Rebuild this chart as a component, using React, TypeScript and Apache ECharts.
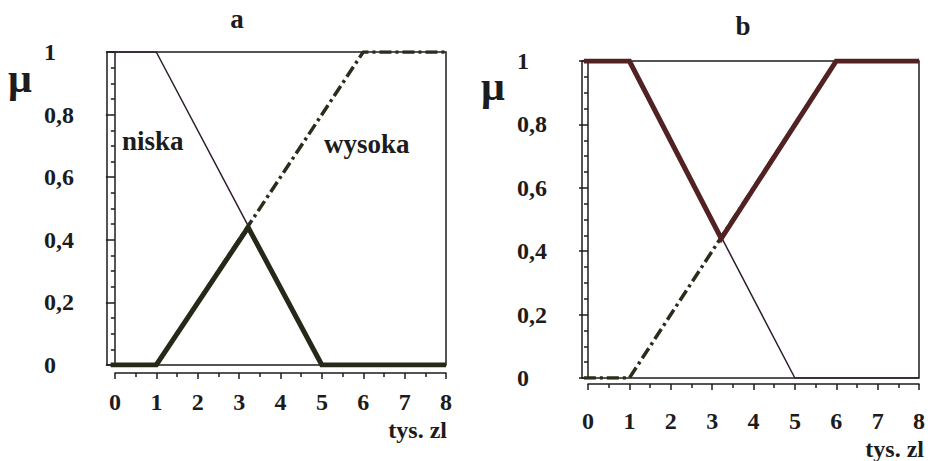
import React, { useEffect, useRef } from "react";
import * as echarts from "echarts";

// membership functions (x in tys. zł, μ)
const niskaX = [-0.1, 1, 5, 8];
const niskaY = [1, 1, 0, 0];
const wysokaX = [-0.1, 1, 6, 8];
const wysokaY = [0, 0, 1, 1];
// a: minimum (AND)
const minX = [-0.1, 1, 3.22, 5, 8];
const minY = [0, 0, 0.44, 0, 0];
// b: maximum (OR)
const maxX = [-0.1, 1, 3.22, 6, 8];
const maxY = [1, 1, 0.44, 1, 1];

const xTickLabels = ["0", "1", "2", "3", "4", "5", "6", "7", "8"];
const yTickLabels = ["0", "0,2", "0,4", "0,6", "0,8", "1"];

const FONT = "'Liberation Serif', 'DejaVu Serif', serif";
const INK = "#1c1c1c";
const THIN = "#2e1c30";
const DASH = "#2a2d1c";
const THICK_A = "#262818";
const THICK_B = "#522222";

const zip = (xs: number[], ys: number[]) => xs.map((x, i) => [x, ys[i]]);

function yAxisVisible(grid: number, margin: number) {
  return {
    gridIndex: grid,
    type: "value",
    min: 0,
    max: 1,
    interval: 0.2,
    offset: 5,
    axisLine: { show: true, lineStyle: { color: INK, width: 1.5 } },
    axisTick: { show: true, length: 9, lineStyle: { color: INK, width: 1.5 } },
    minorTick: { show: true, splitNumber: 4, length: 4, lineStyle: { color: INK, width: 1.5 } },
    splitLine: { show: false },
    minorSplitLine: { show: false },
    axisLabel: {
      align: "left",
      margin,
      fontFamily: FONT,
      fontWeight: "bold",
      fontSize: 24,
      color: INK,
      formatter: (_v: number, i: number) => yTickLabels[i],
    },
  };
}

function xAxisVisible(grid: number, margin: number) {
  return {
    gridIndex: grid,
    type: "value",
    min: 0,
    max: 8,
    interval: 1,
    position: "bottom",
    axisLine: { show: true, onZero: false, lineStyle: { color: INK, width: 1.5 } },
    axisTick: { show: true, length: 6, lineStyle: { color: INK, width: 1.5 } },
    minorTick: { show: true, splitNumber: 2, length: 4, lineStyle: { color: INK, width: 1.5 } },
    splitLine: { show: false },
    minorSplitLine: { show: false },
    axisLabel: {
      margin,
      fontFamily: FONT,
      fontWeight: "bold",
      fontSize: 24,
      lineHeight: 22,
      color: INK,
      formatter: (_v: number, i: number) => xTickLabels[i],
    },
  };
}

function txt(text: string, x: number, y: number, size: number, align = "left") {
  return {
    type: "text",
    x,
    y,
    z: 100,
    style: {
      text,
      fill: INK,
      fontFamily: FONT,
      fontWeight: "bold",
      fontSize: size,
      align,
      verticalAlign: "middle",
    },
  };
}

export default function App() {
  const ref = useRef<HTMLDivElement>(null);
  useEffect(() => {
    if (!ref.current) return;
    const chart = echarts.init(ref.current, undefined, { renderer: "svg" });
    const boxStyle = { show: true, borderColor: INK, borderWidth: 1.5, backgroundColor: "transparent" };
    const option: any = {
      animation: false,
      backgroundColor: "#ffffff",
      grid: [
        { left: 107, top: 52, width: 339, height: 313, ...boxStyle },
        { left: 115, top: 200, width: 331, height: 173 },
        { left: 582, top: 61, width: 337, height: 317, ...boxStyle },
        { left: 588, top: 200, width: 331, height: 184 },
      ],
      xAxis: [
        { gridIndex: 0, type: "value", min: -0.19, max: 8, show: false },
        xAxisVisible(1, 18),
        { gridIndex: 2, type: "value", min: -0.145, max: 8, show: false },
        xAxisVisible(3, 26),
      ],
      yAxis: [
        yAxisVisible(0, 58),
        { gridIndex: 1, type: "value", show: false },
        yAxisVisible(2, 60),
        { gridIndex: 3, type: "value", show: false },
      ],
      series: [
        // chart a
        {
          name: "niska", type: "line", xAxisIndex: 0, yAxisIndex: 0, symbol: "none", z: 2,
          data: zip(niskaX, niskaY), lineStyle: { color: THIN, width: 1.5 },
        },
        {
          name: "wysoka", type: "line", xAxisIndex: 0, yAxisIndex: 0, symbol: "none", z: 3,
          data: zip(wysokaX, wysokaY), lineStyle: { color: DASH, width: 3.5, type: [12, 4, 3, 4] },
        },
        {
          name: "min", type: "line", xAxisIndex: 0, yAxisIndex: 0, symbol: "none", z: 4,
          data: zip(minX, minY), lineStyle: { color: THICK_A, width: 5, join: "miter" },
        },
        // chart b
        {
          name: "niska b", type: "line", xAxisIndex: 2, yAxisIndex: 2, symbol: "none", z: 2,
          data: zip(niskaX, niskaY), lineStyle: { color: THIN, width: 1.5 },
        },
        {
          name: "wysoka b", type: "line", xAxisIndex: 2, yAxisIndex: 2, symbol: "none", z: 3,
          data: zip(wysokaX, wysokaY), lineStyle: { color: DASH, width: 3.5, type: [12, 4, 3, 4] },
        },
        {
          name: "max", type: "line", xAxisIndex: 2, yAxisIndex: 2, symbol: "none", z: 4,
          data: zip(maxX, maxY), lineStyle: { color: THICK_B, width: 5, join: "miter" },
        },
      ],
      graphic: [
        txt("a", 237, 19, 27, "center"),
        txt("b", 743, 26, 27, "center"),
        txt("μ", 20, 78, 42, "center"),
        txt("μ", 493, 86, 42, "center"),
        txt("niska", 122, 141, 27),
        txt("wysoka", 324, 144, 27),
        txt("tys. zl", 447, 430, 24, "right"),
        txt("tys. zl", 924, 449, 24, "right"),
      ],
    };
    chart.setOption(option);
    return () => chart.dispose();
  }, []);
  return (
    <div
      ref={ref}
      style={{ position: "fixed", left: 0, top: 0, width: 930, height: 461, background: "#fff" }}
    />
  );
}
